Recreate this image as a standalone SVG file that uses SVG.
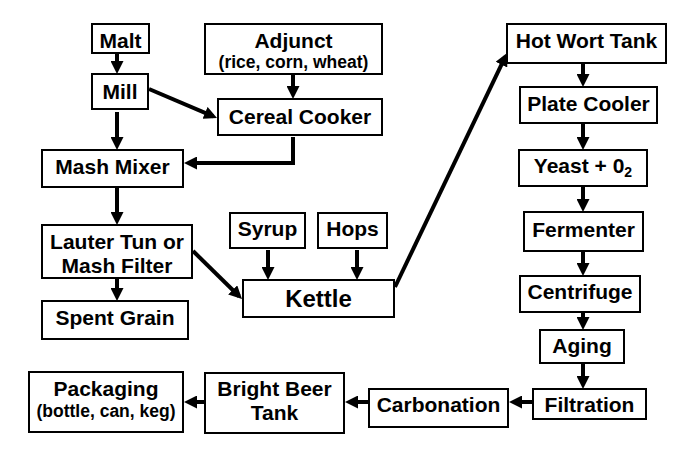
<svg xmlns="http://www.w3.org/2000/svg" width="681" height="453" viewBox="0 0 681 453">
<style>
rect{fill:#fff;stroke:#000;stroke-width:2}
text{font-family:"Liberation Sans",Arial,sans-serif;font-weight:bold;font-size:21px;text-anchor:middle;fill:#000}
.sub{font-size:17.5px}
.big{font-size:24px}
#connectors line,#connectors polyline{stroke:#000;stroke-width:4;fill:none;marker-end:url(#ah)}
</style>
<defs>
<marker id="ah" viewBox="0 0 10 10" refX="6.9" refY="5" markerWidth="13" markerHeight="13" markerUnits="userSpaceOnUse" orient="auto">
<path d="M0,0 L10,5 L0,10 z" fill="#000"/>
</marker>
</defs>
<rect width="681" height="453" style="stroke:none"/>
<g id="malt"><rect x="92" y="24" width="57" height="29"/><text x="120.5" y="48">Malt</text></g>
<g id="mill"><rect x="92" y="74" width="56" height="35"/><text x="120" y="99">Mill</text></g>
<g id="adjunct"><rect x="205" y="24" width="177" height="50"/><text x="293.5" y="48">Adjunct</text><text class="sub" x="293.5" y="68">(rice, corn, wheat)</text></g>
<g id="cereal-cooker"><rect x="218" y="99" width="164" height="36"/><text x="300" y="124">Cereal Cooker</text></g>
<g id="mash-mixer"><rect x="42" y="150" width="141" height="37"/><text x="112.5" y="174">Mash Mixer</text></g>
<g id="lauter-tun"><rect x="42" y="225" width="150" height="53"/><text x="117" y="249">Lauter Tun or</text><text x="117" y="273">Mash Filter</text></g>
<g id="spent-grain"><rect x="42" y="301" width="146" height="38"/><text x="115" y="325">Spent Grain</text></g>
<g id="syrup"><rect x="230" y="213" width="75" height="35"/><text x="267.5" y="236">Syrup</text></g>
<g id="hops"><rect x="318" y="213" width="69" height="35"/><text x="352.5" y="236">Hops</text></g>
<g id="kettle"><rect x="243" y="280" width="151" height="37"/><text class="big" x="318.5" y="307">Kettle</text></g>
<g id="hot-wort-tank"><rect x="507" y="24" width="159" height="39"/><text x="586.5" y="48">Hot Wort Tank</text></g>
<g id="plate-cooler"><rect x="520" y="87" width="137" height="36"/><text x="588.5" y="111">Plate Cooler</text></g>
<g id="yeast"><rect x="519" y="150" width="128" height="36"/><text x="583" y="173">Yeast + 0<tspan font-size="14" dy="4">2</tspan></text></g>
<g id="fermenter"><rect x="524" y="212" width="119" height="39"/><text x="583.5" y="237">Fermenter</text></g>
<g id="centrifuge"><rect x="520" y="276" width="120" height="36"/><text x="580" y="299">Centrifuge</text></g>
<g id="aging"><rect x="540" y="330" width="84" height="33"/><text x="582" y="353">Aging</text></g>
<g id="filtration"><rect x="533" y="389" width="113" height="30"/><text x="589.5" y="412">Filtration</text></g>
<g id="carbonation"><rect x="369" y="389" width="139" height="38"/><text x="438.5" y="412">Carbonation</text></g>
<g id="bright-beer-tank"><rect x="205" y="373" width="139" height="60"/><text x="274.5" y="396">Bright Beer</text><text x="274.5" y="420">Tank</text></g>
<g id="packaging"><rect x="29" y="372" width="154" height="60"/><text x="106" y="396">Packaging</text><text class="sub" x="106" y="417">(bottle, can, keg)</text></g>
<g id="connectors">
<line x1="117" y1="54" x2="117" y2="70"/>
<line x1="117" y1="112" x2="117" y2="146"/>
<line x1="149" y1="89" x2="213.3" y2="116.4"/>
<line x1="293" y1="75" x2="293" y2="95"/>
<polyline points="293,137 293,163 188,163"/>
<line x1="117" y1="188" x2="117" y2="221"/>
<line x1="117" y1="279" x2="117" y2="297"/>
<line x1="193" y1="251" x2="239.1" y2="296.2"/>
<line x1="268" y1="250" x2="268" y2="276"/>
<line x1="357" y1="250" x2="357" y2="276"/>
<line x1="395" y1="287" x2="505.3" y2="56.6"/>
<line x1="583" y1="64" x2="583" y2="83"/>
<line x1="583" y1="124" x2="583" y2="146"/>
<line x1="583" y1="187" x2="583" y2="208"/>
<line x1="583" y1="252" x2="583" y2="272"/>
<line x1="583" y1="313" x2="583" y2="326"/>
<line x1="583" y1="364" x2="583" y2="385"/>
<line x1="533" y1="402" x2="513" y2="402"/>
<line x1="369" y1="402" x2="349" y2="402"/>
<line x1="205" y1="402" x2="188" y2="402"/>
</g>
</svg>
